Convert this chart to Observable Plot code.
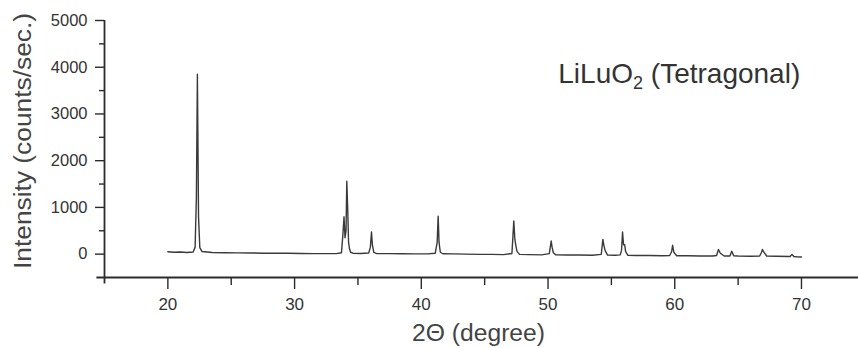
<!DOCTYPE html>
<html><head><meta charset="utf-8">
<script src="https://cdn.jsdelivr.net/npm/d3@7"></script>
<script src="https://cdn.jsdelivr.net/npm/@observablehq/plot@0.6"></script>
<style>body{margin:0;background:#fff} svg{display:block}</style>
</head><body><div id="chart"></div>
<script>
const twoTheta = [20.0,20.5,21.0,21.5,22.0,22.15,22.25,22.33,22.42,22.52,22.7,23.5,24.5,25.5,26.5,27.5,28.5,29.5,30.5,31.5,32.5,33.3,33.7,33.82,33.9,33.98,34.06,34.12,34.2,34.26,34.33,34.42,34.6,35.2,35.85,35.98,36.07,36.14,36.25,36.45,37.5,38.5,39.5,40.5,41.1,41.25,41.33,41.4,41.5,41.7,42.5,43.5,44.5,45.5,46.5,47.15,47.3,47.38,47.45,47.55,47.75,48.5,49.5,50.1,50.25,50.32,50.42,50.6,51.5,52.5,53.5,54.2,54.33,54.4,54.5,54.7,55.3,55.7,55.8,55.88,55.96,56.05,56.12,56.3,57.0,58.0,59.0,59.6,59.75,59.83,59.93,60.15,61.0,62.0,63.0,63.3,63.45,63.6,63.9,64.35,64.5,64.65,65.0,66.0,66.7,66.85,66.92,67.02,67.25,68.0,69.1,69.25,69.4,69.6,70.0];
const intensity = [50,40,45,35,45,150,1200,3850,800,140,55,35,30,28,25,20,22,18,15,12,10,12,30,450,800,350,500,1560,900,250,120,40,20,15,25,150,475,200,40,15,10,8,5,5,20,250,810,250,40,8,5,0,-5,-5,-10,15,710,320,200,60,-5,-10,-15,10,280,150,30,-15,-20,-20,-25,-5,315,200,80,-20,-25,-15,80,475,200,200,60,-25,-30,-30,-35,-30,50,190,40,-35,-35,-40,-40,-30,100,20,-40,-40,60,-35,-40,-45,-40,40,100,50,-40,-45,-50,-5,-50,-55,-60];
const yMajorTicks = [0,1000,2000,3000,4000,5000];
const yMinorTicks = [500,1500,2500,3500,4500];
const xMajorTicks = [20,30,40,50,60,70];
const xMinorTicks = [25,35,45,55,65];
const xTitle = "2Θ (degree)";
const yTitle = "Intensity (counts/sec.)";
const labelMain = "LiLuO";
const labelSub = "2";
const labelRest = " (Tetragonal)";

const data = twoTheta.map((x, i) => ({x, y: intensity[i]}));
const ink = "#2b2b2b";

const chart = Plot.plot({
  width: 858, height: 348,
  marginLeft: 104, marginRight: 0, marginTop: 20, marginBottom: 71,
  x: {domain: [15, 74.5]},
  y: {domain: [-500, 5000]},
  style: {fontFamily: "'Liberation Sans', Arial, sans-serif", fontSize: "16px", color: "#333", background: "#fff"},
  marks: [
    Plot.axisY({ticks: yMajorTicks, tickSize: 9, tickPadding: 8, tickFormat: d3.format("d"), label: null, stroke: ink, strokeWidth: 1.4, fontSize: 16.5}),
    Plot.axisY({ticks: yMinorTicks, tickSize: 5, text: null, label: null, stroke: ink, strokeWidth: 1.4}),
    Plot.axisX({ticks: xMajorTicks, tickSize: 12, tickPadding: 8, tickFormat: d3.format("d"), label: null, stroke: ink, strokeWidth: 1.4, fontSize: 17}),
    Plot.axisX({ticks: xMinorTicks, tickSize: 8, text: null, label: null, stroke: ink, strokeWidth: 1.4}),
    Plot.ruleX([15], {y1: -640, y2: 5000, stroke: ink, strokeWidth: 1.8}),
    Plot.ruleY([-500], {x1: 14.4, x2: 74.5, stroke: ink, strokeWidth: 1.8}),
    Plot.line(data, {x: "x", y: "y", stroke: "#3a3a3a", strokeWidth: 1.4})
  ]
});

const svg = d3.select(chart);
svg.append("text")
  .attr("transform", "translate(23,141) rotate(-90)")
  .attr("text-anchor", "middle").attr("dominant-baseline", "central")
  .attr("font-size", 23).attr("fill", "#444")
  .attr("textLength", 256).attr("lengthAdjust", "spacingAndGlyphs")
  .text(yTitle);
svg.append("text")
  .attr("x", 412).attr("y", 341)
  .attr("text-anchor", "start")
  .attr("font-size", 23).attr("fill", "#444")
  .attr("textLength", 133).attr("lengthAdjust", "spacingAndGlyphs")
  .text(xTitle);

const xs = chart.scale("x"), ys = chart.scale("y");
const lbl = svg.append("text")
  .attr("x", xs.apply(50.85)).attr("y", ys.apply(3650))
  .attr("text-anchor", "start")
  .attr("font-size", 28).attr("fill", "#333");
lbl.append("tspan").text(labelMain);
lbl.append("tspan").attr("font-size", 18).attr("dy", 6).text(labelSub);
lbl.append("tspan").attr("dy", -6).text(labelRest);

document.getElementById("chart").append(chart);
</script>
</body></html>
